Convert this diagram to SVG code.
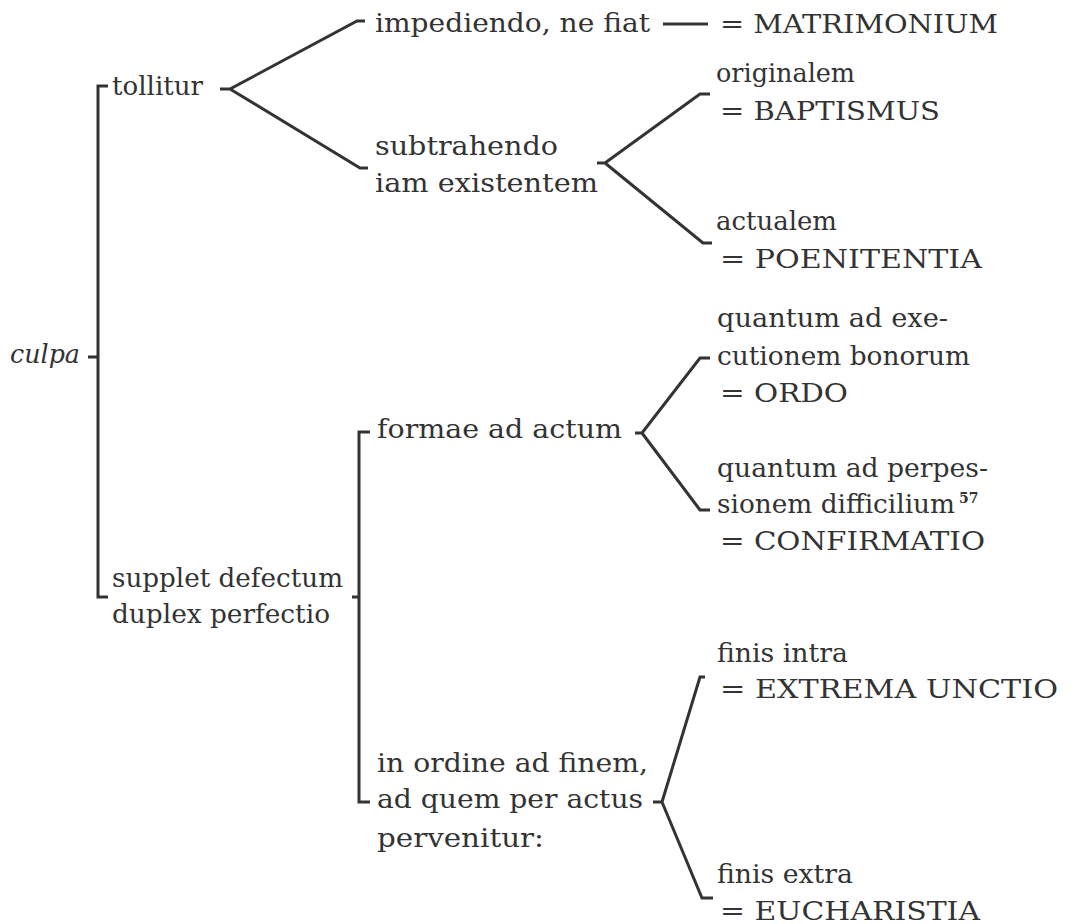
<svg xmlns="http://www.w3.org/2000/svg" width="1079" height="924" viewBox="0 0 1079 924">
<style>
text{font-family:"DejaVu Serif","Liberation Serif",serif;font-size:26px;fill:#333}
.it{font-style:italic}
.sup{font-size:14px;font-weight:bold}
.c{fill:none;stroke:#333;stroke-width:3;stroke-linejoin:miter}
</style>
<rect width="1079" height="924" fill="#fff"/>
<g id="connectors">
<path class="c" d="M108,86 H98 V597 H108 M88,357 H98"/>
<path class="c" d="M220,89 H230 L357,21 H365 M230,89 L360,168 H368"/>
<path class="c" d="M663,24 H708"/>
<path class="c" d="M597,163 H605 L700,94 H710 M605,163 L703,243 H712"/>
<path class="c" d="M370,432 H359 V802 H370 M352,597 H359"/>
<path class="c" d="M635,433 H642 L700,358 H710 M642,433 L700,510 H710"/>
<path class="c" d="M653,802 H662 L700,677 H705 M662,802 L702,898 H713"/>
</g>
<g id="culpa"><text class="it" x="10" y="363" textLength="70" lengthAdjust="spacingAndGlyphs">culpa</text></g>
<g id="tollitur"><text x="112" y="95" textLength="91" lengthAdjust="spacingAndGlyphs">tollitur</text></g>
<g id="impediendo"><text x="375" y="32" textLength="275" lengthAdjust="spacingAndGlyphs">impediendo, ne fiat</text></g>
<g id="matrimonium"><text x="720" y="33" textLength="278" lengthAdjust="spacingAndGlyphs">= MATRIMONIUM</text></g>
<g id="subtrahendo">
<text x="375" y="155" textLength="183" lengthAdjust="spacingAndGlyphs">subtrahendo</text>
<text x="375" y="192" textLength="223" lengthAdjust="spacingAndGlyphs">iam existentem</text>
</g>
<g id="originalem">
<text x="716" y="82" textLength="139" lengthAdjust="spacingAndGlyphs">originalem</text>
<text x="720" y="120" textLength="220" lengthAdjust="spacingAndGlyphs">= BAPTISMUS</text>
</g>
<g id="actualem">
<text x="716" y="230" textLength="121" lengthAdjust="spacingAndGlyphs">actualem</text>
<text x="720" y="268" textLength="262" lengthAdjust="spacingAndGlyphs">= POENITENTIA</text>
</g>
<g id="supplet">
<text x="112" y="587" textLength="231" lengthAdjust="spacingAndGlyphs">supplet defectum</text>
<text x="112" y="623" textLength="218" lengthAdjust="spacingAndGlyphs">duplex perfectio</text>
</g>
<g id="formae"><text x="377" y="438" textLength="245" lengthAdjust="spacingAndGlyphs">formae ad actum</text></g>
<g id="ordo">
<text x="717" y="327" textLength="231" lengthAdjust="spacingAndGlyphs">quantum ad exe-</text>
<text x="717" y="365" textLength="253" lengthAdjust="spacingAndGlyphs">cutionem bonorum</text>
<text x="720" y="402" textLength="128" lengthAdjust="spacingAndGlyphs">= ORDO</text>
</g>
<g id="confirmatio">
<text x="717" y="477" textLength="271" lengthAdjust="spacingAndGlyphs">quantum ad perpes-</text>
<text x="717" y="513" textLength="238" lengthAdjust="spacingAndGlyphs">sionem difficilium</text>
<text class="sup" x="959" y="503">57</text>
<text x="720" y="550" textLength="265" lengthAdjust="spacingAndGlyphs">= CONFIRMATIO</text>
</g>
<g id="in-ordine">
<text x="377" y="772" textLength="271" lengthAdjust="spacingAndGlyphs">in ordine ad finem,</text>
<text x="377" y="808" textLength="266" lengthAdjust="spacingAndGlyphs">ad quem per actus</text>
<text x="377" y="847" textLength="167" lengthAdjust="spacingAndGlyphs">pervenitur:</text>
</g>
<g id="extrema">
<text x="717" y="662" textLength="131" lengthAdjust="spacingAndGlyphs">finis intra</text>
<text x="720" y="698" textLength="338" lengthAdjust="spacingAndGlyphs">= EXTREMA UNCTIO</text>
</g>
<g id="eucharistia">
<text x="717" y="883" textLength="136" lengthAdjust="spacingAndGlyphs">finis extra</text>
<text x="720" y="920" textLength="260" lengthAdjust="spacingAndGlyphs">= EUCHARISTIA</text>
</g>
</svg>
